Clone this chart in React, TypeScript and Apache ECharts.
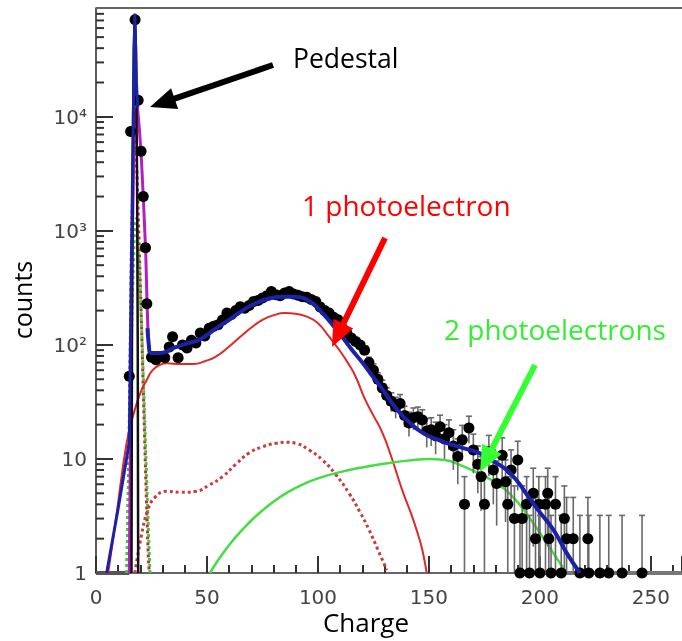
import React, { useEffect, useRef } from "react";
import * as echarts from "echarts";

// ---- axes ----
const X_MIN = 0;
const X_MAX = 264;
const X_INTERVAL = 50;
const X_MINOR = 10;
const Y_MIN = 1;
const Y_MAX = 90000;
const yTickText: Record<number, string> = { 0: "1", 1: "10", 2: "10²", 3: "10³", 4: "10⁴" };

// ---- measured points: [charge, counts, error] ----
const pedestalPoints: number[][] = [
  [15, 53, 0], [15.6, 7450, 0], [17.6, 71000, 0], [19, 14000, 0], [20.3, 5000, 0],
  [21.3, 2000, 0], [22.3, 710, 0], [22.9, 230, 0],
];
const spectrumPoints: number[][] = [
  [25, 78, 0], [27, 74, 0], [29, 79, 0], [31, 77, 0], [33, 96, 0], [34.5, 118, 0], [37, 77, 0],
  [39, 100, 0], [41, 94, 0], [43, 110, 0], [45, 104, 0], [47, 127, 0], [49, 120, 0], [51, 140, 0],
  [53, 146, 0], [55, 150, 0], [57, 165, 0], [59, 190, 0], [61, 185, 0], [63, 200, 0], [65, 216, 0],
  [67, 210, 0], [69, 222, 0], [71, 240, 0], [73, 245, 0], [75, 258, 0], [77, 270, 0], [79, 294, 0],
  [81, 275, 0], [83, 270, 0], [85, 285, 0], [87, 294, 0], [89, 280, 0], [91, 272, 0], [93, 265, 0],
  [95, 262, 0], [97, 250, 0], [99, 240, 0], [101, 215, 0], [103, 200, 0], [105, 190, 0], [107, 175, 0],
  [109, 166, 0], [111, 140, 0], [113, 127, 0], [115, 115, 0], [117, 107, 0], [119, 100, 0], [121, 90, 0],
  [123, 70, 8], [125, 60, 8], [127, 50, 7], [129, 42, 7], [131, 36, 6], [133, 32, 6], [135, 28.7, 6],
  [137, 30.7, 6], [139, 24, 5], [141, 20.7, 5], [143, 23, 5], [145, 23.5, 5], [147, 22, 5], [149, 17.6, 5],
  [151, 18, 5], [153, 16, 5], [155, 19.2, 5], [157, 15, 5], [159, 17, 5], [161, 13, 5], [163, 10.5, 4.5],
  [165, 14.7, 5], [166, 4, 3], [168, 18.7, 5], [170, 12, 4.5], [172, 9, 4], [173.5, 7, 3.5], [175, 4, 3],
  [177, 11.6, 4.5], [179, 8, 4], [180.5, 6.1, 3.5], [183, 10.8, 4.5], [184.5, 6.3, 3.5], [185.5, 4, 3],
  [187, 8, 4], [188.5, 3, 2.8], [190, 9.8, 4.5], [191, 1, 2.2], [192, 3, 2.8], [194, 4, 3], [195.3, 1, 2.2],
  [197, 5, 3.3], [198, 2, 2.6], [199.5, 4, 3], [200, 1, 2.2], [202.5, 4, 3], [203.5, 5, 3.3], [204, 2, 2.6],
  [205, 1, 2.2], [207, 4, 3], [209.6, 1, 2.2], [211, 3, 2.8], [212, 2, 2.6], [215, 2, 2.6], [218, 1, 2.2],
  [221.6, 2, 2.6], [222, 1, 2.2], [227, 1, 2.2], [231, 1, 2.2], [237, 1, 2.2], [246, 1, 2.2],
];

// ---- fit curves: [charge, counts] ----
const totalFitLeft: number[][] = [
  [4.8, 1], [10, 3.7], [15, 14], [15.8, 300], [16.8, 10000], [17.5, 80000], [18.2, 20000], [18.8, 12000],
];
const totalFitMain: number[][] = [
  [23.2, 140], [23.8, 100], [24.5, 85], [29, 85], [35, 94],
  [41, 103], [47, 112], [53, 135], [60, 166], [66, 200], [72, 232], [78, 255], [84, 265], [90, 265],
  [94, 255], [98, 228], [102, 190], [106, 155], [111, 117], [115, 92], [120, 70], [124, 55], [129, 41],
  [135, 28], [140, 22], [147, 17], [155, 14.5], [165, 12.5], [173, 11.2], [180, 9.3], [185, 8],
  [190, 6.3], [195, 4.6], [200, 3.4], [206, 2.4], [212, 1.5], [218, 1],
];
const pedestalFit: number[][] = [
  [16, 1], [16.2, 100], [16.5, 3000], [17, 40000], [17.5, 80000], [18, 40000], [18.5, 3000],
  [18.8, 100], [19, 1],
];
const pedestalTail: number[][] = [
  [15, 1], [16.2, 500], [17.3, 10000], [18.7, 12000], [19.5, 8000], [20.3, 4800], [21.3, 2000],
  [22.4, 650], [23, 230], [23.5, 120],
];
const pedestalRedDotted: number[][] = [
  [14, 1], [15, 20], [16, 800], [17.3, 10000], [18.5, 3000], [19.5, 700], [20.5, 150], [21.5, 30],
  [22.5, 6], [23.5, 1.5], [24, 1],
];
const pedestalGreenDotted: number[][] = [
  [13.8, 1], [15, 12], [16.3, 250], [17.5, 1200], [18.3, 1300], [19.5, 500], [21, 80], [22.5, 10], [24.3, 1],
];
const onePE: number[][] = [
  [5.5, 1], [9, 3], [13.8, 13.8], [17, 25], [20, 38], [22.8, 49], [25.5, 60], [28.8, 67], [32, 69],
  [38, 68], [44, 68], [49, 72], [54, 79], [60, 97], [65, 118], [70, 142], [75, 166], [80, 182], [85, 190],
  [90, 188], [95, 177], [100, 155], [105, 118], [110, 88], [114, 67], [117, 52.6], [121, 34], [125, 24],
  [129, 17], [133, 10.5], [138, 5.3], [142, 3.3], [145, 2.2], [147, 1.6], [149, 1],
];
const onePEDotted: number[][] = [
  [17.5, 1], [20.6, 2.2], [23, 3.4], [26.5, 4.6], [32, 5.2], [38, 5.1], [45, 5.2], [51, 5.9], [57, 7],
  [63, 9], [69, 11.3], [75, 12.8], [81, 13.7], [86, 14], [90, 13.7], [96, 12], [102, 9.8], [108, 7.3],
  [114, 5], [119, 3.4], [123, 2.4], [127, 1.6], [131, 1.06],
];
const twoPE: number[][] = [
  [51.3, 1], [56, 1.38], [61, 1.86], [66, 2.4], [71, 3.02], [76, 3.67], [81, 4.37], [87, 5.19],
  [93, 5.96], [100, 6.76], [110, 7.67], [121, 8.51], [132, 9.23], [143, 9.77], [150, 10], [157, 9.8],
  [165, 8.7], [172, 7.5], [180, 6.2], [188, 4.6], [195, 3.1], [201, 2.1], [207, 1.4], [212, 1],
];
const emptyBinsLeft: number[][] = [[0, 1], [15, 1]];
const emptyBinsRight: number[][] = [[200, 1], [264, 1]];

const yMajorTicks: number[] = [1, 10, 100, 1000, 10000];
const yMinorTicks: number[] = [];
for (const d of yMajorTicks) for (let k = 2; k <= 9; k++) if (d * k < Y_MAX) yMinorTicks.push(d * k);
const xTicks: number[] = [];
for (let v = X_MIN; v <= X_MAX; v += X_MINOR) xTicks.push(v);

function arrowPoints(x1: number, y1: number, x2: number, y2: number, sw: number, hl: number, hw: number) {
  const dx = x2 - x1, dy = y2 - y1;
  const len = Math.hypot(dx, dy);
  const ux = dx / len, uy = dy / len;
  const nx = -uy, ny = ux;
  const bx = x2 - ux * hl, by = y2 - uy * hl;
  return [
    [x1 + (nx * sw) / 2, y1 + (ny * sw) / 2],
    [bx + (nx * sw) / 2, by + (ny * sw) / 2],
    [bx + (nx * hw) / 2, by + (ny * hw) / 2],
    [x2, y2],
    [bx - (nx * hw) / 2, by - (ny * hw) / 2],
    [bx - (nx * sw) / 2, by - (ny * sw) / 2],
    [x1 - (nx * sw) / 2, y1 - (ny * sw) / 2],
  ];
}

const lineSeries = (name: string, data: number[][], color: string, width: number, type: string, smooth: number | boolean, z: number) => ({
  name,
  type: "line",
  data,
  showSymbol: false,
  symbol: "none",
  smooth,
  lineStyle: { color, width, type },
  z,
  silent: true,
});

export default function App() {
  const ref = useRef<HTMLDivElement>(null);
  useEffect(() => {
    if (!ref.current) return;
    const chart = echarts.init(ref.current, undefined, { renderer: "svg" });
    const labelFont = "DejaVu Sans";
    const annFont = "Open Sans";
    chart.setOption({
      animation: false,
      grid: { left: 96, right: 0, top: 8, bottom: 68 },
      xAxis: {
        type: "value",
        min: X_MIN,
        max: X_MAX,
        interval: X_INTERVAL,
        axisLine: { show: true, onZero: false, lineStyle: { color: "#333333", width: 1.6 } },
        axisTick: { show: true, inside: true, length: 17, lineStyle: { color: "#333333", width: 2 } },
        minorTick: { show: true, splitNumber: 5, length: 8, lineStyle: { color: "#333333", width: 2 } },
        splitLine: { show: false },
        minorSplitLine: { show: false },
        axisLabel: { show: true, color: "#444", fontSize: 20, fontFamily: labelFont, margin: 14, showMaxLabel: false },
      },
      yAxis: {
        type: "log",
        logBase: 10,
        min: Y_MIN,
        max: Y_MAX,
        axisLine: { show: true, onZero: false, lineStyle: { color: "#333333", width: 1.6 } },
        axisTick: { show: true, inside: true, length: 17, lineStyle: { color: "#333333", width: 2 } },
        splitLine: { show: false },
        axisLabel: {
          show: true,
          color: "#444",
          fontSize: 20,
          fontFamily: labelFont,
          margin: 9,
          showMaxLabel: false,
          formatter: (v: number) => {
            const e = Math.round(Math.log10(v));
            if (Math.abs(Math.log10(v) - e) > 1e-6) return "";
            return yTickText[e] ?? "";
          },
        },
      },
      series: [
        { ...lineSeries("emptyL", emptyBinsLeft, "#555", 4, "solid", false, 2), clip: false },
        { ...lineSeries("emptyR", emptyBinsRight, "#777", 4, "solid", false, 2), clip: false },
        lineSeries("pedRedDotted", pedestalRedDotted, "#c8283c", 3, "dotted", false, 3),
        lineSeries("pedGreenDotted", pedestalGreenDotted, "#3ccf3c", 3, "dotted", false, 3),
        lineSeries("pedTail", pedestalTail, "#b020c0", 3, "solid", false, 3),
        lineSeries("onePEDotted", onePEDotted, "#c83c3c", 3, "dotted", 0.5, 3),
        lineSeries("onePE", onePE, "#e02828", 2, "solid", 0.5, 3),
        lineSeries("twoPE", twoPE, "#44dd44", 2.5, "solid", 0.5, 3),
        lineSeries("pedestal", pedestalFit, "#111", 2.5, "solid", false, 4),
        {
          type: "custom",
          name: "errors",
          data: [...pedestalPoints, ...spectrumPoints],
          silent: true,
          clip: true,
          z: 5,
          renderItem: (_p: any, api: any) => {
            const x = api.value(0), y = api.value(1), e = api.value(2);
            if (!e) return { type: "group", children: [] };
            const hi = api.coord([x, y + e]);
            const lo = api.coord([x, Math.max(y - e, Y_MIN)]);
            const st = { stroke: "#6a6a6a", lineWidth: 1.6 };
            return {
              type: "group",
              children: [
                { type: "line", shape: { x1: hi[0], y1: hi[1], x2: lo[0], y2: lo[1] }, style: st },
                { type: "line", shape: { x1: hi[0] - 3, y1: hi[1], x2: hi[0] + 3, y2: hi[1] }, style: st },
              ],
            };
          },
        },
        {
          type: "scatter",
          name: "data",
          data: [...pedestalPoints, ...spectrumPoints].map((p) => [p[0], p[1]]),
          symbol: "circle",
          symbolSize: 11,
          itemStyle: { color: "#000", opacity: 1 },
          silent: true,
          z: 6,
        },
        lineSeries("totalLeft", totalFitLeft, "#1c22a8", 3, "solid", false, 7),
        lineSeries("totalMain", totalFitMain, "#1c22a8", 4, "solid", 0.5, 7),
      ],
    });

    // minor log ticks and top border drawn through the axes' own scales
    const px = (v: number) => chart.convertToPixel({ xAxisIndex: 0 }, v) as number;
    const py = (v: number) => chart.convertToPixel({ yAxisIndex: 0 }, v) as number;
    const x0 = px(X_MIN);
    const x1 = px(X_MAX);
    const yt = py(Y_MAX);
    const extra: any[] = [];
    for (const v of yMinorTicks) {
      const y = py(v);
      extra.push({ type: "line", shape: { x1: x0, y1: y, x2: x0 + 8, y2: y }, style: { stroke: "#333333", lineWidth: 2 }, z: 100 });
    }
    extra.push({ type: "line", shape: { x1: x0, y1: yt, x2: x1, y2: yt }, style: { stroke: "#666666", lineWidth: 2 }, z: 100 });

    chart.setOption({
      graphic: [
        ...extra,
        { type: "polygon", shape: { points: arrowPoints(273, 65, 150, 107, 6, 26, 22) }, style: { fill: "#000" }, z: 100 },
        { type: "polygon", shape: { points: arrowPoints(385, 238, 332, 347, 6, 26, 22) }, style: { fill: "#ff0000" }, z: 100 },
        { type: "polygon", shape: { points: arrowPoints(535, 365, 480, 472, 6, 26, 22) }, style: { fill: "#33ff33" }, z: 100 },
        {
          type: "text", left: 293, top: 44, z: 100,
          style: { text: "Pedestal", fill: "#000", fontSize: 26.5, fontFamily: annFont },
        },
        {
          type: "text", left: 302, top: 191, z: 100,
          style: { text: "1 photoelectron", fill: "#ff0000", fontSize: 28, fontFamily: annFont },
        },
        {
          type: "text", left: 444, top: 315, z: 100,
          style: { text: "2 photoelectrons", fill: "#33ee33", fontSize: 28, fontFamily: annFont },
        },
        {
          type: "text", x: 22, y: 300, rotation: Math.PI / 2, z: 100,
          style: { text: "counts", fill: "#000", fontSize: 25, fontFamily: annFont, align: "center", verticalAlign: "middle" },
        },
        {
          type: "text", x: 366, y: 622, z: 100,
          style: { text: "Charge", fill: "#000", fontSize: 26, fontFamily: annFont, align: "center", verticalAlign: "middle" },
        },
      ],
    });
    return () => chart.dispose();
  }, []);
  return <div ref={ref} style={{ position: "fixed", left: 0, top: 0, width: 682, height: 641 }} />;
}
